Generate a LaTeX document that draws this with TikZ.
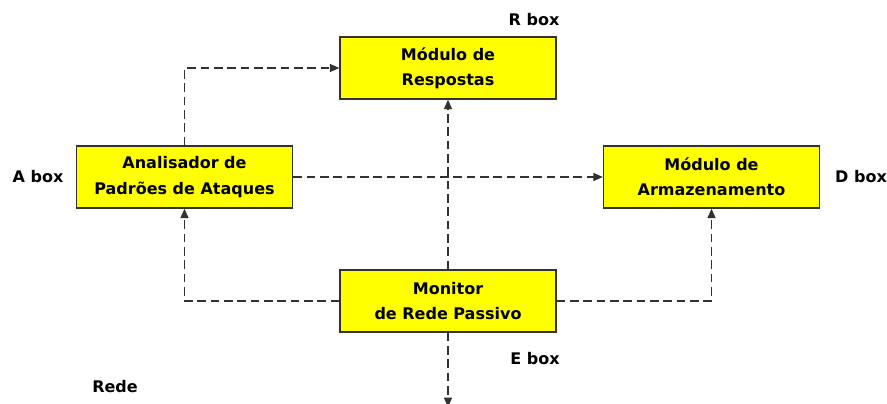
\documentclass[tikz,border=0pt]{standalone}
\usepackage{fontspec}
\setmainfont{DejaVu Sans}
\usetikzlibrary{arrows.meta}
\definecolor{boxyellow}{RGB}{255,255,0}
\definecolor{linegray}{RGB}{50,50,50}
\tikzset{
  modbox/.style={draw=linegray, line width=1.1pt, fill=boxyellow, minimum width=162pt, minimum height=46.5pt, align=center, font=\fontsize{12pt}{19pt}\selectfont\bfseries, inner sep=0pt},
  lbl/.style={font=\fontsize{12pt}{14pt}\selectfont\bfseries, inner sep=0pt},
  conn/.style={draw=linegray, line width=0.9pt, dash pattern=on 6.5pt off 3.5pt, -{Triangle[length=7pt,width=6pt]}}
}
\begin{document}
\begin{tikzpicture}[x=0.75pt,y=-0.75pt]
\useasboundingbox (0,0) rectangle (887,403);
\fill[white] (0,0) rectangle (887,403);
\node[modbox] (R) at (448,68) {Módulo de\\Respostas};
\node[modbox] (A) at (184.5,177) {Analisador de\\Padrões de Ataques};
\node[modbox] (D) at (711.5,177) {Módulo de\\Armazenamento};
\node[modbox] (M) at (448,301) {Monitor\\de Rede Passivo};
\coordinate (bottom) at (448,407);
\node[lbl] (rl) at (534,20) {R box};
\node[lbl] (al) at (38,177) {A box};
\node[lbl] (dl) at (861,177) {D box};
\node[lbl] (el) at (535,359) {E box};
\node[lbl] (rede) at (115,387) {Rede};
\draw[conn] (M.north) -- (R.south);
\draw[conn] (M.south) -- (bottom);
\draw[conn] (A.north) |- (R.west);
\draw[conn] (A.east) -- (D.west);
\draw[conn] (M.west) -| (A.south);
\draw[conn] (M.east) -| (D.south);
\end{tikzpicture}
\end{document}
